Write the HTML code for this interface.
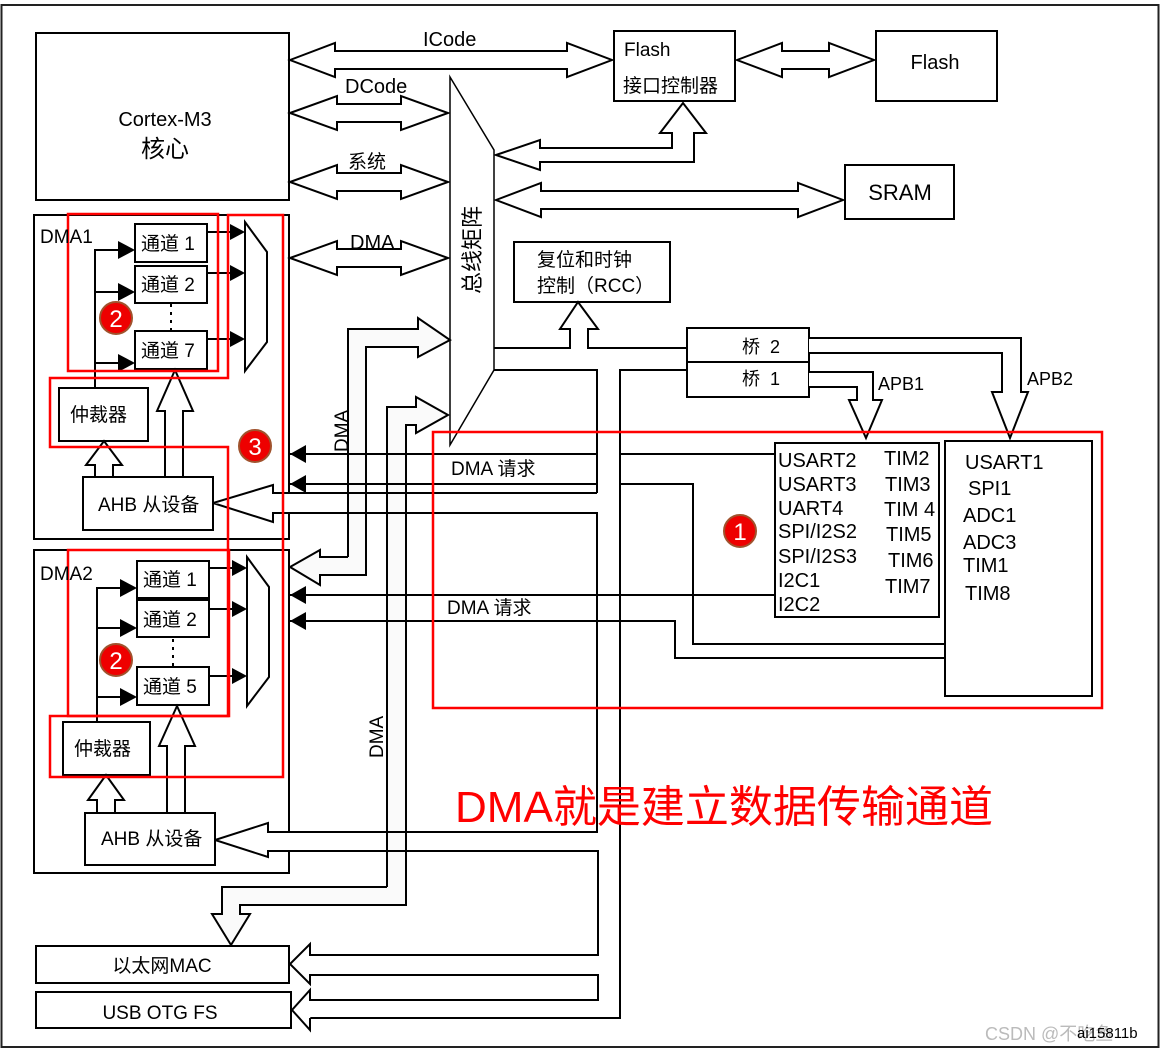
<!DOCTYPE html>
<html><head><meta charset="utf-8"><style>
html,body{margin:0;padding:0;background:#fff;}
svg{display:block;}
text{font-family:"Liberation Sans","Noto Sans CJK SC",sans-serif;fill:#000;}
</style></head><body>
<svg width="1163" height="1052" viewBox="0 0 1163 1052" xmlns="http://www.w3.org/2000/svg">
<rect x="1.5" y="5" width="1157" height="1042" fill="none" stroke="#222" stroke-width="2"/>

<g fill="#fff" stroke="#000" stroke-width="2">
<rect x="36" y="33" width="253" height="167"/>
<rect x="614" y="31" width="121" height="70"/>
<rect x="876" y="31" width="121" height="70"/>
<rect x="845" y="165" width="109" height="54"/>
<rect x="514" y="242" width="156" height="60"/>
<rect x="687" y="328" width="122" height="69"/>
<line x1="687" y1="362" x2="809" y2="362"/>
<rect x="34" y="215" width="255" height="324"/>
<rect x="34" y="550" width="255" height="323"/>
<rect x="36" y="946" width="253" height="37"/>
<rect x="36" y="992" width="255" height="36"/>
<rect x="775" y="443" width="164" height="174"/>
<rect x="945" y="441" width="147" height="255"/>
</g>

<!-- hollow arrows -->
<g fill="#fff" stroke="#000" stroke-width="2" stroke-linejoin="miter">
<polygon points="290,60 335,43 335,51 567,51 567,43 612,60 567,77 567,69 335,69 335,77"/>
<polygon points="290,113 337,96 337,104 401,104 401,96 448,113 401,130 401,122 337,122 337,130"/>
<polygon points="290,182 337,165 337,173 401,173 401,165 448,182 401,199 401,191 337,191 337,199"/>
<polygon points="290,258 337,241 337,249 401,249 401,241 448,258 401,275 401,267 337,267 337,275"/>
<polygon points="737,60 782,43 782,51 829,51 829,43 874,60 829,77 829,69 782,69 782,77"/>
<polygon points="496,200 541,183 541,191 798,191 798,183 843,200 798,217 798,209 541,209 541,217"/>
<polygon points="496,155 540,140 540,148 672,148 672,133 660,133 683,103 706,133 694,133 694,162 540,162 540,170"/>
</g>

<!-- bus matrix -->
<polygon points="450,77 494,150 494,370 450,445" fill="#fff" stroke="#000" stroke-width="1.5"/>
<text x="0" y="0" font-size="22" transform="translate(480,250) rotate(-90)" text-anchor="middle">总线矩阵</text>

<!-- bus lines -->
<g fill="none" stroke="#000" stroke-width="2">
<polyline points="494,348 570,348 570,329 560,329 578,302 598,329 588,329 588,348 687,348" fill="#fff"/>
<polyline points="494,370 597,370 597,493"/>
<polyline points="687,370 620,370 620,1018 310,1018"/>
<!-- APB -->
<polyline points="809,372 873,372 873,400 882,400 866,438 849,400 857,400 857,387 809,387" fill="#fff"/>
<polyline points="809,338 1021,338 1021,392 1028,392 1010,438 992,392 1002,392 1002,353 809,353" fill="#fff"/>
<!-- AHB1 in -->
<polyline points="597,493 273,493 273,485 213,503 273,522 273,513 597,513 597,832 268,832 268,823 215,840 268,857 268,851 598,851 598,955 310,955 310,944 290,964 310,984 310,975 598,975 598,1000 310,1000 310,990 292,1010 310,1030 310,1018" fill="#fff"/>
<!-- DMA request lines -->
<polyline points="290,454 597,454"/>
<polyline points="620,454 775,454"/>
<polyline points="290,484 597,484"/>
<polyline points="620,484 693,484 693,644 945,644"/>
<polyline points="290,595 775,595"/>
<polyline points="290,621 675,621 675,658 945,658"/>
<!-- bus A -->
<polyline points="348,557 348,329 418,329 418,318 450,340 418,357 418,347 366,347 366,575 320,575 320,585 290,567 320,550 320,557 348,557" fill="#fafafa"/>
<!-- bus B -->
<polyline points="387,887 387,407 416,407 416,397 448,415 416,433 416,425 406,425 406,905 240,905 240,914 250,914 231,945 212,914 222,914 222,887 387,887" fill="#fafafa"/>
</g>
<g stroke="#000" stroke-width="2">
<line x1="290" y1="454" x2="597" y2="454"/><line x1="290" y1="484" x2="597" y2="484"/>
<line x1="290" y1="595" x2="775" y2="595"/><line x1="290" y1="621" x2="675" y2="621"/>
<line x1="290" y1="493" x2="597" y2="493"/><line x1="290" y1="513" x2="597" y2="513"/>
<line x1="290" y1="832" x2="598" y2="832"/><line x1="290" y1="851" x2="598" y2="851"/>
</g>
<g fill="#000">
<polygon points="290,454 306,445 306,463"/>
<polygon points="290,484 306,475 306,493"/>
<polygon points="290,595 306,586 306,604"/>
<polygon points="290,621 306,612 306,630"/>
</g>

<!-- DMA1 internals -->
<g fill="#fff" stroke="#000" stroke-width="2">
<rect x="135" y="224" width="72" height="38"/>
<rect x="135" y="266" width="72" height="37"/>
<rect x="135" y="331" width="72" height="38"/>
<rect x="59" y="388" width="89" height="53"/>
<rect x="83" y="477" width="130" height="53"/>
<polygon points="245,222 267,252 267,342 245,371"/>
<polygon points="95,477 95,465 86,465 104,441 122,465 113,465 113,477"/>
<polygon points="165,477 165,411 157,411 175,370 193,411 183,411 183,477"/>
<rect x="137" y="561" width="72" height="37"/>
<rect x="137" y="600" width="72" height="37"/>
<rect x="137" y="667" width="72" height="38"/>
<rect x="63" y="722" width="87" height="53"/>
<rect x="85" y="813" width="130" height="52"/>
<polygon points="247,557 269,587 269,677 247,706"/>
<polygon points="97,813 97,800 88,800 106,775 124,800 115,800 115,813"/>
<polygon points="167,813 167,746 159,746 177,706 195,746 185,746 185,813"/>
</g>
<g stroke="#000" stroke-width="2" fill="none">
<polyline points="95,388 95,250 122,250"/><line x1="95" y1="292" x2="122" y2="292"/><line x1="95" y1="363" x2="122" y2="363"/>
<line x1="207" y1="232" x2="232" y2="232"/><line x1="207" y1="273" x2="232" y2="273"/><line x1="207" y1="339" x2="232" y2="339"/>
<line x1="171" y1="304" x2="171" y2="330" stroke-dasharray="3,5"/>
<polyline points="97,722 97,588 124,588"/><line x1="97" y1="628" x2="124" y2="628"/><line x1="97" y1="697" x2="124" y2="697"/>
<line x1="209" y1="568" x2="234" y2="568"/><line x1="209" y1="609" x2="234" y2="609"/><line x1="209" y1="676" x2="234" y2="676"/>
<line x1="173" y1="639" x2="173" y2="666" stroke-dasharray="3,5"/>
</g>
<g fill="#000">
<polygon points="135,250 118,241 118,259"/><polygon points="135,292 118,283 118,301"/><polygon points="135,363 118,354 118,372"/>
<polygon points="245,232 230,224 230,240"/><polygon points="245,273 230,265 230,281"/><polygon points="245,339 230,331 230,347"/>
<polygon points="137,588 120,579 120,597"/><polygon points="137,628 120,619 120,637"/><polygon points="137,697 120,688 120,706"/>
<polygon points="247,568 232,560 232,576"/><polygon points="247,609 232,601 232,617"/><polygon points="247,676 232,668 232,684"/>
</g>

<!-- red boxes -->
<g fill="none" stroke="#f00" stroke-width="2.5">
<rect x="68" y="214" width="150" height="157"/>
<polygon points="50,378 228,378 228,215 283,215 283,777 50,777 50,716 228,716 228,447 50,447"/>
<rect x="68" y="550" width="161" height="166"/>
<rect x="433" y="432" width="669" height="276"/>
</g>

<!-- texts -->
<text x="165" y="126" font-size="20" text-anchor="middle">Cortex-M3</text>
<text x="165" y="157" font-size="24" text-anchor="middle">核心</text>
<text x="423" y="46" font-size="20">ICode</text>
<text x="345" y="93" font-size="20">DCode</text>
<text x="348" y="168" font-size="19">系统</text>
<text x="350" y="249" font-size="20">DMA</text>
<text x="624" y="56" font-size="19">Flash</text>
<text x="623" y="92" font-size="19">接口控制器</text>
<text x="935" y="69" font-size="20" text-anchor="middle">Flash</text>
<text x="900" y="200" font-size="22" text-anchor="middle">SRAM</text>
<text x="537" y="266" font-size="19">复位和时钟</text>
<text x="537" y="292" font-size="19">控制（RCC）</text>
<text x="742" y="353" font-size="18">桥&#160;&#160;2</text>
<text x="742" y="385" font-size="18">桥&#160;&#160;1</text>
<text x="878" y="390" font-size="18">APB1</text>
<text x="1027" y="385" font-size="18">APB2</text>
<text x="451" y="475" font-size="19">DMA 请求</text>
<text x="447" y="614" font-size="19">DMA 请求</text>
<text transform="translate(348,452) rotate(-90)" font-size="19">DMA</text>
<text transform="translate(383,758) rotate(-90)" font-size="19">DMA</text>
<text x="40" y="243" font-size="19">DMA1</text>
<text x="40" y="580" font-size="19">DMA2</text>
<g font-size="19">
<text x="141" y="250">通道 1</text><text x="141" y="291">通道 2</text><text x="141" y="357">通道 7</text>
<text x="70" y="421">仲裁器</text><text x="98" y="511">AHB 从设备</text>
<text x="143" y="586">通道 1</text><text x="143" y="626">通道 2</text><text x="143" y="693">通道 5</text>
<text x="74" y="755">仲裁器</text><text x="101" y="845">AHB 从设备</text>
<text x="162" y="972" text-anchor="middle">以太网MAC</text>
<text x="160" y="1019" text-anchor="middle">USB OTG FS</text>
</g>
<g font-size="20">
<text x="778" y="467">USART2</text><text x="778" y="491">USART3</text><text x="778" y="515">UART4</text>
<text x="778" y="538">SPI/I2S2</text><text x="778" y="563">SPI/I2S3</text><text x="778" y="587">I2C1</text><text x="778" y="611">I2C2</text>
<text x="884" y="465">TIM2</text><text x="885" y="491">TIM3</text><text x="884" y="516">TIM 4</text>
<text x="886" y="541">TIM5</text><text x="888" y="567">TIM6</text><text x="885" y="593">TIM7</text>
<text x="965" y="469">USART1</text><text x="968" y="495">SPI1</text><text x="963" y="522">ADC1</text>
<text x="963" y="549">ADC3</text><text x="963" y="572">TIM1</text><text x="965" y="600">TIM8</text>
</g>
<text x="455" y="822" font-size="44" fill="#f00" style="fill:#f00" textLength="538" lengthAdjust="spacingAndGlyphs">DMA就是建立数据传输通道</text>

<!-- badges -->
<g stroke="#a0522d" stroke-width="2" fill="#e00">
<circle cx="740" cy="531" r="16"/><circle cx="116" cy="318" r="16"/><circle cx="116" cy="660" r="16"/><circle cx="255" cy="446" r="16"/>
</g>
<g font-size="24" text-anchor="middle" style="fill:#fff">
<text x="740" y="540" style="fill:#fff">1</text><text x="116" y="327" style="fill:#fff">2</text><text x="116" y="669" style="fill:#fff">2</text><text x="255" y="455" style="fill:#fff">3</text>
</g>

<text x="985" y="1040" font-size="18" style="fill:#bbb">CSDN @不吃鱼</text>
<text x="1077" y="1038" font-size="15">ai15811b</text>
</svg>
</body></html>
